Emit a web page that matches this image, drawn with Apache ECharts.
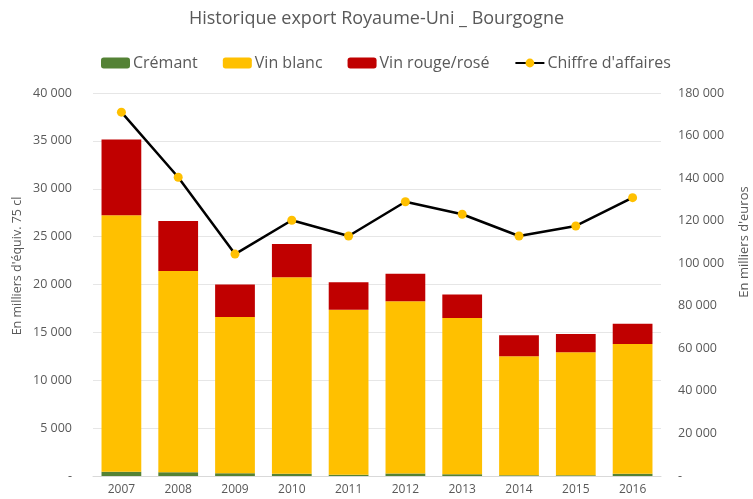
<!DOCTYPE html>
<html>
<head>
<meta charset="utf-8">
<script src="https://cdn.jsdelivr.net/npm/echarts@6/dist/echarts.min.js"></script>
<style>
  html, body { margin: 0; padding: 0; background: #fff; }
  #chart { width: 753px; height: 499px; }
</style>
</head>
<body>
<div id="chart"></div>
<script>
// export data
var years = ["2007", "2008", "2009", "2010", "2011", "2012", "2013", "2014", "2015", "2016"];
var cremant = [450, 380, 280, 240, 140, 270, 170, 70, 70, 240];
var vinBlanc = [26780, 21030, 16320, 20520, 17220, 17990, 16320, 12430, 12850, 13540];
var vinRouge = [7920, 5220, 3400, 3480, 2880, 2850, 2470, 2190, 1900, 2120];
var chiffre = [171000, 140400, 104300, 120200, 112800, 128900, 123000, 112800, 117500, 130800];

var txt = "#595959";
var font = "Open Sans";

function fmt(v) {
    if (v === 0) return "-";
    return String(v).replace(/\B(?=(\d{3})+(?!\d))/g, " ");
}

var chart = echarts.init(document.getElementById("chart"));
chart.setOption({
    animation: false,
    textStyle: { fontFamily: font, color: txt },
    title: {
        text: "Historique export Royaume-Uni _ Bourgogne",
        left: "center",
        top: 5,
        textStyle: { fontFamily: font, fontSize: 18, fontWeight: "normal", color: txt }
    },
    legend: {
        top: 50,
        left: 96,
        itemGap: 25,
        itemWidth: 29,
        itemHeight: 11,
        textStyle: { fontFamily: font, fontSize: 16, color: txt, padding: [0, 0, 0, -2] },
        data: ["Crémant", "Vin blanc", "Vin rouge/rosé", "Chiffre d'affaires"]
    },
    grid: { left: 93, right: 92, top: 93, bottom: 23 },
    // axis titles placed by hand, the reference has them off-centre
    graphic: [{
        type: "text",
        rotation: Math.PI / 2,
        x: 17, y: 266,
        style: { text: "En milliers d'équiv. 75 cl", font: "12.5px " + font, fill: txt,
                 textAlign: "center", textVerticalAlign: "middle" }
    }, {
        type: "text",
        rotation: Math.PI / 2,
        x: 744, y: 242,
        style: { text: "En milliers d'euros", font: "13px " + font, fill: txt,
                 textAlign: "center", textVerticalAlign: "middle" }
    }],
    xAxis: {
        type: "category",
        data: years,
        axisLine: { lineStyle: { color: "#d9d9d9" } },
        axisTick: { show: false },
        axisLabel: { fontSize: 12, color: txt, margin: 8 }
    },
    yAxis: [{
        type: "value",
        min: 0, max: 40000, interval: 5000,
        axisLine: { show: false },
        axisTick: { show: false },
        splitLine: { lineStyle: { color: "#e6e6e6" } },
        axisLabel: { fontSize: 12.5, color: txt, margin: 21, formatter: fmt }
    }, {
        type: "value",
        min: 0, max: 180000, interval: 20000,
        axisLine: { show: false },
        axisTick: { show: false },
        splitLine: { show: false },
        axisLabel: { fontSize: 12.5, color: txt, margin: 17, formatter: fmt }
    }],
    series: [{
        name: "Crémant",
        type: "bar",
        stack: "vol",
        barCategoryGap: "30%",
        itemStyle: { color: "#548235" },
        data: cremant
    }, {
        name: "Vin blanc",
        type: "bar",
        stack: "vol",
        itemStyle: { color: "#FFC000" },
        data: vinBlanc
    }, {
        name: "Vin rouge/rosé",
        type: "bar",
        stack: "vol",
        itemStyle: { color: "#C00000" },
        data: vinRouge
    }, {
        name: "Chiffre d'affaires",
        type: "line",
        yAxisIndex: 1,
        symbol: "circle",
        symbolSize: 9,
        lineStyle: { color: "#000", width: 2.5 },
        itemStyle: { color: "#FFC000" },
        data: chiffre
    }]
});
</script>
</body>
</html>
